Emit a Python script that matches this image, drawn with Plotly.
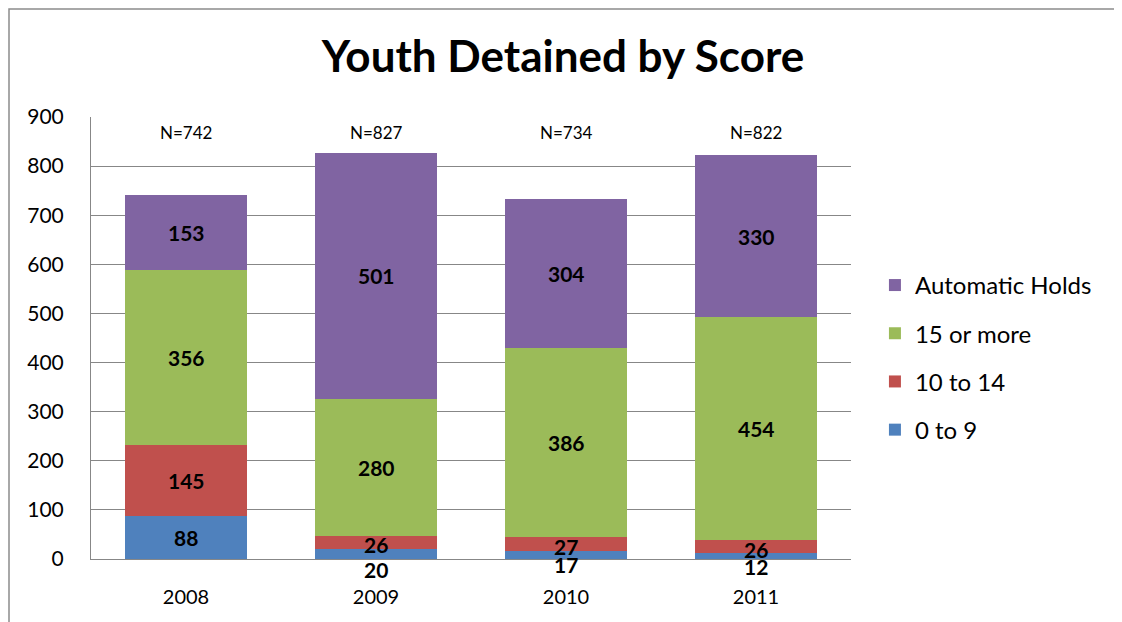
import plotly.graph_objects as go

years = ["2008", "2009", "2010", "2011"]
series_names = ["0 to 9", "10 to 14", "15 or more", "Automatic Holds"]
score_0_9 = [88, 20, 17, 12]
score_10_14 = [145, 26, 27, 26]
score_15_more = [356, 280, 386, 454]
automatic_holds = [153, 501, 304, 330]
totals = [742, 827, 734, 822]
series_values = [score_0_9, score_10_14, score_15_more, automatic_holds]
colors = ["#4F81BD", "#C0504D", "#9BBB59", "#8064A2"]

# pixel nudges for crowded labels (style, not data)
label_yshift = {0: [0, -15, -10, -10], 1: [0, -2, -2, -3]}

FONT = "Lato"
W, H = 1114, 614          # page has an 8px body margin
L, T, PW, PH = 83, 109, 760, 442

fig = go.Figure()
for i, (name, vals) in enumerate(zip(series_names, series_values)):
    fig.add_trace(go.Bar(
        x=years, y=vals, name=name, marker_color=colors[i],
        marker_line_width=0, legendgroup=name, legendrank=10 - i,
    ))

annotations = []
base = [0] * len(years)
for si, vals in enumerate(series_values):
    for j, v in enumerate(vals):
        shift = label_yshift.get(si, [0] * len(years))[j]
        annotations.append(dict(
            x=j, y=base[j] + v / 2, xref="x", yref="y", text=f"<b>{v}</b>",
            showarrow=False, yshift=shift,
            font=dict(family=FONT, size=21, color="black"),
        ))
        base[j] += v

for j, t in enumerate(totals):
    annotations.append(dict(
        x=j, y=900, xref="x", yref="y", text=f"N={t}", showarrow=False,
        yanchor="top", yshift=-3, font=dict(family=FONT, size=17, color="black"),
    ))

fig.update_layout(
    width=W, height=H,
    barmode="stack", bargap=0.36,
    paper_bgcolor="white", plot_bgcolor="white",
    margin=dict(l=L, r=W - L - PW, t=T, b=H - T - PH, autoexpand=False),
    title=dict(text="<b>Youth Detained by Score</b>", x=(563 - 8) / W, xref="container",
               xanchor="center", y=1 - (57 - 8) / H, yanchor="middle",
               font=dict(family=FONT, size=44, color="black")),
    legend=dict(x=1.0315, xanchor="left", y=0.456, yanchor="middle",
                traceorder="grouped", itemwidth=30, tracegroupgap=14,
                font=dict(family=FONT, size=24, color="black")),
    annotations=annotations,
    shapes=[dict(type="rect", xref="paper", yref="paper",
                 x0=(1 - L) / PW, x1=(1110 - L) / PW,
                 y0=-0.3, y1=(T + PH - 1) / PH,
                 line=dict(color="#8c8c8c", width=1.5), fillcolor="rgba(0,0,0,0)",
                 layer="below")],
)
fig.update_yaxes(range=[0, 900], dtick=100, showgrid=True, gridcolor="#878787",
                 gridwidth=1, showline=True, linecolor="#878787", linewidth=1,
                 zeroline=False, ticks="outside", ticklen=0, ticklabelstandoff=22,
                 automargin=False,
                 tickfont=dict(family=FONT, size=21, color="black"))
fig.update_xaxes(type="category", range=[-0.5, 3.5], showline=True,
                 linecolor="#878787", linewidth=1,
                 ticks="outside", ticklen=0, ticklabelstandoff=20, automargin=False,
                 tickfont=dict(family=FONT, size=20, color="black"))

fig.write_html("out.html")
